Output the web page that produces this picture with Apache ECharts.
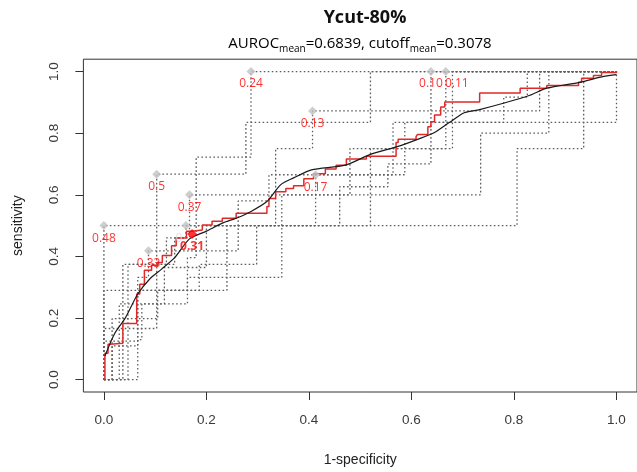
<!DOCTYPE html>
<html>
<head>
<meta charset="utf-8">
<script src="https://cdn.jsdelivr.net/npm/echarts@6/dist/echarts.min.js"></script>
<style>html,body{margin:0;padding:0;background:#fff}#c{width:637px;height:472px}</style>
</head>
<body>
<div id="c"></div>
<script>
// ---- data ----
const xTicks = [0, 0.2, 0.4, 0.6, 0.8, 1.0];
const yTicks = [0, 0.2, 0.4, 0.6, 0.8, 1.0];

const curve1 = [[0,0],[0,0.5],[0.806,0.5],[0.806,0.75],[0.936,0.75],[0.936,1],[1,1]];
const curve2 = [[0,0],[0.066,0],[0.066,0.13],[0.074,0.13],[0.074,0.166],[0.103,0.166],[0.103,0.667],[0.277,0.667],[0.277,0.835],[0.52,0.835],[0.52,1],[1,1]];
const curve3 = [[0,0],[0.047,0],[0.047,0.29],[0.163,0.29],[0.163,0.396],[0.18,0.396],[0.18,0.722],[0.287,0.722],[0.287,1],[1,1]];
const curve4 = [[0,0],[0.037,0],[0.037,0.374],[0.138,0.374],[0.138,0.46],[0.167,0.46],[0.167,0.6],[0.735,0.6],[0.735,0.8],[0.868,0.8],[0.868,1],[1,1]];
const curve5 = [[0,0],[0,0.125],[0.066,0.125],[0.066,0.332],[0.087,0.332],[0.087,0.418],[0.262,0.418],[0.262,0.58],[0.322,0.58],[0.322,0.665],[0.564,0.665],[0.564,0.835],[0.78,0.835],[0.78,0.917],[0.826,0.917],[0.826,1],[1,1]];
const curve6 = [[0,0],[0.016,0],[0.016,0.198],[0.105,0.198],[0.105,0.29],[0.186,0.29],[0.186,0.374],[0.298,0.374],[0.298,0.5],[0.335,0.5],[0.335,0.75],[0.407,0.75],[0.407,0.872],[0.85,0.872],[0.85,1],[1,1]];
const curve7 = [[0,0],[0.03,0],[0.03,0.246],[0.118,0.246],[0.118,0.364],[0.2,0.364],[0.2,0.5],[0.413,0.5],[0.413,0.665],[0.587,0.665],[0.587,0.835],[1,0.835],[1,1]];
const curve8 = [[0,0],[0,0.29],[0.047,0.29],[0.047,0.374],[0.122,0.374],[0.122,0.46],[0.16,0.46],[0.16,0.5],[0.347,0.5],[0.347,0.6],[0.48,0.6],[0.48,0.75],[0.68,0.75],[0.68,1],[1,1]];
const curve9 = [[0,0],[0.016,0],[0.016,0.11],[0.066,0.11],[0.066,0.29],[0.24,0.29],[0.24,0.5],[0.46,0.5],[0.46,0.626],[0.554,0.626],[0.554,0.7],[0.638,0.7],[0.638,1],[1,1]];
const curve10 = [[0,0],[0,0.166],[0.074,0.166],[0.074,0.246],[0.163,0.246],[0.163,0.332],[0.347,0.332],[0.347,0.5],[0.52,0.5],[0.52,0.75],[0.667,0.75],[0.667,1],[1,1]];

const cutoffX = [0, 0.103, 0.287, 0.167, 0.087, 0.407, 0.413, 0.16, 0.638, 0.667];
const cutoffY = [0.5, 0.667, 1.0, 0.6, 0.418, 0.872, 0.665, 0.5, 1.0, 1.0];
const cutoffLabels = ['0.48', '0.5', '0.24', '0.37', '0.33', '0.13', '0.17', '0', '0.10', '0.11'];

const meanPoint = [0.172, 0.473];
const meanLabel = '0.31';

const meanRoc = [[0.002,0],[0.002,0.067],[0.008,0.086],[0.012,0.115],[0.037,0.118],[0.041,0.182],[0.064,0.182],[0.070,0.278],[0.079,0.310],[0.093,0.355],[0.105,0.371],[0.114,0.380],[0.132,0.403],[0.141,0.435],[0.161,0.460],[0.172,0.482],[0.192,0.486],[0.211,0.502],[0.231,0.514],[0.258,0.524],[0.318,0.540],[0.322,0.562],[0.335,0.588],[0.355,0.610],[0.370,0.620],[0.390,0.629],[0.409,0.652],[0.432,0.668],[0.453,0.684],[0.473,0.696],[0.512,0.716],[0.516,0.725],[0.570,0.725],[0.574,0.770],[0.609,0.780],[0.612,0.789],[0.632,0.796],[0.638,0.821],[0.645,0.837],[0.657,0.859],[0.665,0.885],[0.671,0.901],[0.733,0.901],[0.744,0.930],[0.812,0.930],[0.816,0.946],[0.864,0.946],[0.870,0.955],[0.926,0.955],[0.932,0.965],[0.955,0.978],[0.971,0.987],[0.975,0.997],[1.0,0.997],[1.0,1.0]];

const smoothRoc = [[0.002,0.077],[0.021,0.150],[0.041,0.198],[0.066,0.278],[0.089,0.326],[0.112,0.358],[0.138,0.396],[0.167,0.457],[0.200,0.482],[0.231,0.508],[0.258,0.524],[0.287,0.546],[0.318,0.578],[0.345,0.633],[0.370,0.655],[0.405,0.681],[0.471,0.696],[0.521,0.732],[0.574,0.757],[0.612,0.780],[0.645,0.802],[0.676,0.837],[0.703,0.866],[0.729,0.875],[0.781,0.898],[0.831,0.923],[0.864,0.946],[0.928,0.965],[0.975,0.984],[1.0,0.99]];

const grayCurves = [curve1, curve2, curve3, curve4, curve5, curve6, curve7, curve8, curve9, curve10];

// ---- chart ----
const chart = echarts.init(document.getElementById('c'), null, {renderer: 'canvas'});
const tickFont = {fontFamily: 'Liberation Sans', fontSize: 13.5, color: '#3a3a3a'};

const series = [];
grayCurves.forEach(function (c) {
  series.push({
    type: 'line', data: c, showSymbol: false, silent: true, animation: false,
    lineStyle: {color: '#5e5e5e', width: 1.3, type: [1.6, 2.4]}, z: 2
  });
});
series.push({
  type: 'line', data: meanRoc, step: 'start', showSymbol: false, silent: true, animation: false,
  lineStyle: {color: '#e02a2a', width: 1.5}, z: 3
});
series.push({
  type: 'line', data: smoothRoc, smooth: 0.25, showSymbol: false, silent: true, animation: false,
  lineStyle: {color: '#1a1a1a', width: 1.2}, z: 4
});
series.push({
  type: 'scatter', symbol: 'diamond', symbolSize: 9, animation: false, silent: true, z: 5,
  itemStyle: {color: '#c2c2c2'},
  data: cutoffX.map(function (x, i) {
    const lab = cutoffLabels[i];
    const item = {value: [x, cutoffY[i]], label: {formatter: lab}};
    if (lab === '0') { item.label.color = '#dadada'; item.label.offset = [-7, 0]; }
    if (lab === '0.11') { item.label.offset = [11, 0]; }
    return item;
  }),
  label: {show: true, position: 'bottom', distance: 2, color: '#ff0000', fontFamily: 'Open Sans', fontSize: 12}
});
series.push({
  type: 'scatter', symbol: 'diamond', symbolSize: 10, animation: false, silent: true, z: 6,
  itemStyle: {color: '#ff0000'},
  data: [{value: meanPoint, label: {formatter: meanLabel}}],
  label: {show: true, position: 'bottom', distance: 2, color: '#ff0000', fontFamily: 'Open Sans', fontSize: 12, fontWeight: 'bold'}
});

chart.setOption({
  animation: false,
  backgroundColor: '#fff',
  grid: {left: 83.4, top: 59.2, width: 557.2, height: 338, show: true, borderColor: '#333', borderWidth: 1, containLabel: false},
  xAxis: {
    type: 'value', min: -0.04, max: 1.04,
    name: '1-specificity', nameLocation: 'middle', nameGap: 61,
    nameTextStyle: {fontFamily: 'Liberation Sans', fontSize: 14, color: '#222'},
    axisLine: {show: false, onZero: false},
    axisTick: {show: true, inside: false, length: 8, lineStyle: {color: '#333'}, customValues: xTicks},
    axisLabel: {customValues: xTicks, margin: 21, formatter: function (v) { return v.toFixed(1); }, ...tickFont},
    splitLine: {show: false}
  },
  yAxis: {
    type: 'value', min: -0.04, max: 1.04,
    name: 'sensitivity', nameLocation: 'middle', nameGap: 58, nameRotate: 90,
    nameTextStyle: {fontFamily: 'Liberation Sans', fontSize: 14, color: '#222'},
    axisLine: {show: false, onZero: false},
    axisTick: {show: true, inside: false, length: 8, lineStyle: {color: '#333'}, customValues: yTicks},
    axisLabel: {customValues: yTicks, rotate: 90, margin: 22, formatter: function (v) { return v.toFixed(1); }, ...tickFont},
    splitLine: {show: false}
  },
  graphic: [
    {type: 'text', x: 365, y: 18, silent: true,
     style: {text: 'Ycut-80%', font: 'bold 18px "Open Sans"', fill: '#111', textAlign: 'center', textVerticalAlign: 'middle'}},
    {type: 'text', x: 360, y: 44, silent: true,
     style: {
       text: '{a|AUROC}{s|mean}{a|=0.6839, cutoff}{s|mean}{a|=0.3078}',
       textAlign: 'center', textVerticalAlign: 'middle',
       rich: {
         a: {fontFamily: 'Open Sans', fontSize: 15, color: '#111', lineHeight: 20, verticalAlign: 'middle'},
         s: {fontFamily: 'Open Sans', fontSize: 10, color: '#111', lineHeight: 11, verticalAlign: 'bottom'}
       }
     }}
  ],
  series: series
});
</script>
</body>
</html>
